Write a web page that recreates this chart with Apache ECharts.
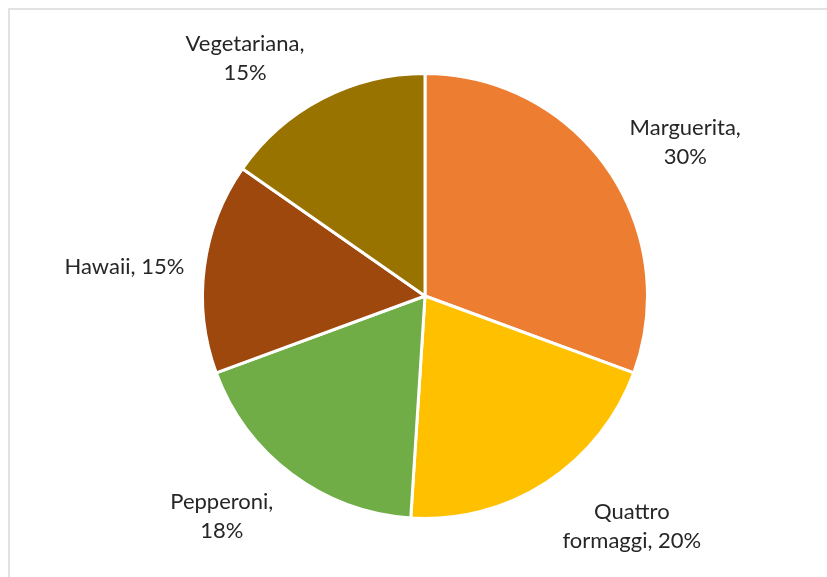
<!DOCTYPE html>
<html>
<head>
<meta charset="utf-8">
<style>
  html, body { margin: 0; padding: 0; background: #ffffff; }
  #chart { width: 827px; height: 577px; }
</style>
<script src="https://cdn.jsdelivr.net/npm/echarts@6/dist/echarts.min.js"></script>
</head>
<body>
<div id="chart"></div>
<script>
// Pizza preference shares (values shown as percentages)
const categories = ['Marguerita', 'Quattro formaggi', 'Pepperoni', 'Hawaii', 'Vegetariana'];
const shares = [30, 20, 18, 15, 15];
const labelTexts = ['Marguerita,\n30%', 'Quattro\nformaggi, 20%', 'Pepperoni,\n18%', 'Hawaii, 15%', 'Vegetariana,\n15%'];
const colors = ['#ED7D31', '#FFC000', '#70AD47', '#9E480E', '#997300'];

const CX = 425, CY = 296, R = 222.5;

// Label placement: angular offset from the slice's mid-angle (degrees) and distance from centre
const labelAngleShift = [4.4, -8.8, 5.9, -1.8, -9.6];
const labelDistance = [302, 310, 300, 302, 298];

const total = shares.reduce((a, b) => a + b, 0);
const midAngles = [];
let acc = 0;
shares.forEach(v => {
  midAngles.push((acc + v / 2) / total * 360);
  acc += v;
});

const chart = echarts.init(document.getElementById('chart'), null, { renderer: 'canvas' });

chart.setOption({
  animation: false,
  backgroundColor: '#ffffff',
  graphic: [{
    type: 'rect',
    shape: { x: 9, y: 9, width: 900, height: 700 },
    style: { fill: 'none', stroke: '#d9d9d9', lineWidth: 1.5 },
    silent: true
  }],
  series: [{
    type: 'pie',
    center: [CX, CY],
    radius: [0, R],
    startAngle: 90,
    clockwise: true,
    avoidLabelOverlap: false,
    data: categories.map((name, i) => ({
      name: name,
      value: shares[i],
      itemStyle: { color: colors[i] }
    })),
    itemStyle: { borderColor: '#ffffff', borderWidth: 3 },
    label: {
      show: true,
      position: 'outside',
      formatter: p => labelTexts[p.dataIndex],
      fontFamily: 'Lato',
      fontSize: 22,
      lineHeight: 29,
      color: '#262626',
      align: 'center'
    },
    labelLine: { show: false, length: 10, length2: 0 },
    labelLayout: function (params) {
      const i = params.dataIndex;
      const a = (midAngles[i] + labelAngleShift[i]) * Math.PI / 180;
      const d = labelDistance[i];
      return {
        x: CX + d * Math.sin(a),
        y: CY - d * Math.cos(a),
        align: 'center',
        verticalAlign: 'middle'
      };
    }
  }]
});
</script>
</body>
</html>
